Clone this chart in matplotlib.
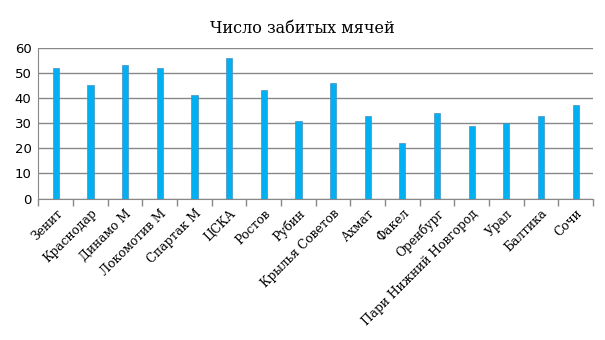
import matplotlib
matplotlib.use("Agg")
import matplotlib.pyplot as plt
import numpy as np

teams = ["Зенит", "Краснодар", "Динамо М", "Локомотив М", "Спартак М", "ЦСКА",
         "Ростов", "Рубин", "Крылья Советов", "Ахмат", "Факел", "Оренбург",
         "Пари Нижний Новгород", "Урал", "Балтика", "Сочи"]
goals = [52, 45, 53, 52, 41, 56, 43, 31, 46, 33, 22, 34, 29, 30, 33, 37]
yticks = [0, 10, 20, 30, 40, 50, 60]

fig = plt.figure(figsize=(6.05, 3.4), dpi=100)
ax = fig.add_axes([0.0636, 0.416, 0.9165, 0.444])

x = np.arange(len(teams))
ax.bar(x, goals, width=0.18, color="#00B0F0", edgecolor="#4A90C0", linewidth=0.5, zorder=3)

ax.set_xlim(-0.5, len(teams) - 0.5)
ax.set_ylim(0, 60)
ax.set_yticks(yticks)
ax.yaxis.grid(True, color="#888888", linewidth=1)
ax.set_axisbelow(True)
ax.tick_params(axis="y", length=0, labelsize=9.5, pad=5)

ax.set_xticks(x)
ax.set_xticklabels(teams, rotation=45, ha="right", rotation_mode="anchor",
                   family="DejaVu Serif", fontsize=8.8)
ax.tick_params(axis="x", which="major", length=0, pad=6)
ax.set_xticks(np.arange(-0.5, len(teams)), minor=True)
ax.tick_params(axis="x", which="minor", length=5, color="#888888", width=1)

for s in ["top", "right"]:
    ax.spines[s].set_visible(False)
ax.spines["left"].set_color("#888888")
ax.spines["bottom"].set_color("#888888")

fig.suptitle("Число забитых мячей", x=0.5, y=0.94, family="DejaVu Serif", fontsize=11.5)

fig.savefig("out.png", dpi=100)
